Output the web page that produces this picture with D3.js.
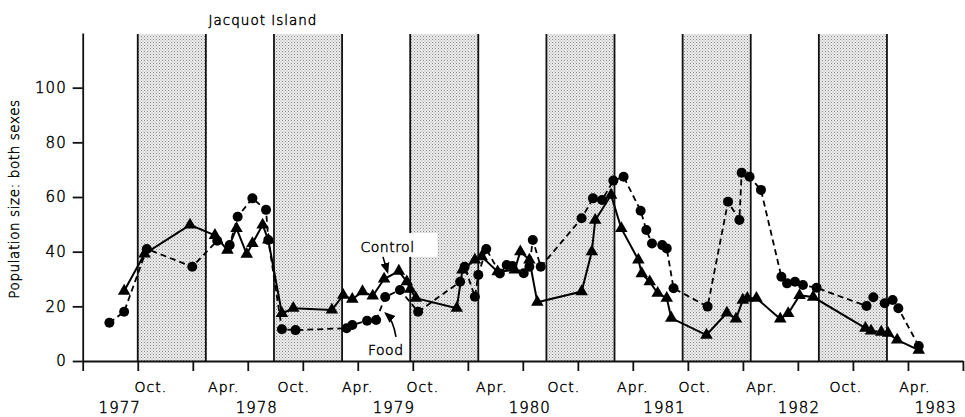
<!DOCTYPE html>
<html>
<head>
<meta charset="utf-8">
<script src="https://cdn.jsdelivr.net/npm/d3@7"></script>
<style>
  body { margin: 0; background: #fff; }
  svg text { font-family: "DejaVu Sans", sans-serif; font-weight: 300; fill: #000; stroke: #000; stroke-width: 0.45px; }
</style>
</head>
<body>
<svg id="chart" width="965" height="417"></svg>
<script>
// x values are months counted from Jan 1977 (0 = Jan 1977)
const foodMonths = [6.5, 7.8, 9.8, 13.8, 16.0, 17.1, 17.8, 19.1, 20.3, 20.5, 21.7, 22.9,
  27.4, 27.9, 29.2, 30.0, 30.8, 32.1, 33.7, 37.4, 37.8, 38.7, 39.0, 39.7, 40.9, 41.5,
  42.0, 43.0, 43.5, 43.8, 44.5, 48.1, 49.1, 49.9, 50.9, 51.8, 53.3, 53.8, 54.3, 55.2,
  55.6, 56.2, 59.2, 61.0, 62.0, 62.2, 62.9, 63.9, 65.7, 66.2, 66.9, 67.6, 68.8, 73.2,
  73.8, 74.8, 75.5, 76.0, 77.8];
const foodCounts = [14, 18, 41, 34.5, 44, 42.4, 52.8, 59.5, 55.3, 44.3, 11.6, 11.3,
  12, 13.2, 14.7, 15, 23.4, 26, 18, 29, 34.5, 23.5, 31.5, 41, 32, 35.1,
  34.8, 32.1, 34.5, 44.3, 34.5, 52.2, 59.5, 58.9, 66, 67.4, 55, 47.9, 43, 42.4,
  41.2, 26.6, 19.9, 58.3, 51.6, 68.9, 67.4, 62.6, 30.8, 28.4, 29, 27.8, 26.8, 20.1,
  23.3, 21.1, 22.3, 19.3, 5.5];

const controlMonths = [7.8, 9.6, 13.6, 15.8, 16.9, 17.7, 18.6, 19.1, 20.0, 20.5, 21.7,
  22.7, 26.1, 27.1, 27.9, 28.8, 29.7, 30.7, 32.0, 32.7, 33.0, 33.5, 37.1, 37.6, 38.7,
  39.3, 40.7, 42.2, 42.7, 43.5, 44.2, 48.1, 49.0, 49.3, 50.7, 51.6, 53.1, 53.4, 54.1,
  54.8, 55.6, 56.0, 59.1, 60.9, 61.7, 62.3, 62.7, 63.5, 65.6, 66.3, 67.3, 68.5, 73.1,
  73.6, 74.5, 75.1, 75.9, 77.8];
const controlCounts = [25.6, 39.2, 49.8, 46, 40.6, 48.5, 39.1, 43, 49.8, 44.3, 17.4,
  19.3, 18.7, 24.1, 22.6, 25.4, 23.8, 30, 32.9, 29, 26.3, 23, 19.3, 33.3, 37,
  38.2, 32.7, 33.3, 40, 37, 21.5, 25.4, 40, 51.5, 60.7, 48.5, 37, 32, 29,
  24.8, 23, 15.7, 9.5, 17.6, 15.4, 22.3, 23, 23, 15.4, 17.4, 24, 23.4, 12,
  11, 10.6, 10.2, 7.7, 4];

// winter periods (Oct to Apr), shaded
const winterStarts = [9, 21, 33, 45, 57, 69];
const winterEnds = [15, 27, 39, 51, 63, 75];

const xTickMonths = [4.15, 9.0, 13.85, 18.69, 23.54, 28.38, 33.23, 38.08, 42.92,
  47.77, 52.61, 57.46, 62.31, 67.15, 72.0, 76.85, 81.69];
const monthLabels = ["Oct.", "Apr.", "Oct.", "Apr.", "Oct.", "Apr.", "Oct.", "Apr.",
  "Oct.", "Apr.", "Oct.", "Apr."];
const monthLabelAt = [10.15, 16.58, 22.74, 28.38, 34.11, 40.19, 46.53, 52.61,
  58.07, 63.98, 71.38, 77.46];
const yearLabels = ["1977", "1978", "1979", "1980", "1981", "1982", "1983"];
const yearLabelAt = [7.41, 19.48, 31.56, 43.54, 55.4, 67.24, 79.3];
const yTicks = [0, 20, 40, 60, 80, 100];

const svg = d3.select("#chart");

const x = d3.scaleLinear().domain([4.15, 81.69]).range([82.7, 962.9]);
const y = d3.scaleLinear().domain([0, 120]).range([361, 33]);

/* ================================
   STIPPLE PATTERN + WINTER BANDS
================================ */
const defs = svg.append("defs");
const pat = defs.append("pattern")
  .attr("id", "stipple")
  .attr("patternUnits", "userSpaceOnUse")
  .attr("width", 3).attr("height", 3);
pat.append("rect").attr("width", 3).attr("height", 3).attr("fill", "#ebebeb");
pat.append("rect").attr("x", 0).attr("y", 0).attr("width", 1).attr("height", 1).attr("fill", "#8a8a8a");
pat.append("rect").attr("x", 1.5).attr("y", 1.5).attr("width", 1).attr("height", 1).attr("fill", "#b0b0b0");

const bands = winterStarts.map((s, i) => ({ start: s, end: winterEnds[i] }));

svg.append("g").selectAll("rect")
  .data(bands)
  .join("rect")
  .attr("x", d => x(d.start))
  .attr("y", y(120) + 1)
  .attr("width", d => x(d.end) - x(d.start))
  .attr("height", y(0) - y(120) - 1)
  .attr("fill", "url(#stipple)");

const edges = svg.append("g").attr("stroke", "#111").attr("stroke-width", 1.8);
bands.forEach(d => {
  [d.start, d.end].forEach(m => {
    edges.append("line")
      .attr("x1", x(m)).attr("x2", x(m))
      .attr("y1", y(120) + 1).attr("y2", y(0));
  });
});

/* ================================
   AXES
================================ */
const xAxis = svg.append("g")
  .attr("transform", `translate(0,${y(0)})`)
  .call(d3.axisBottom(x).tickValues(xTickMonths).tickFormat("").tickSize(10).tickSizeOuter(0));
xAxis.selectAll("path, line").attr("stroke", "#111").attr("stroke-width", 1.8);

const yAxis = svg.append("g")
  .attr("transform", `translate(${x.range()[0]},0)`)
  .call(d3.axisLeft(y).tickValues(yTicks).tickSize(10).tickSizeOuter(0).tickPadding(6));
yAxis.selectAll("path, line").attr("stroke", "#111").attr("stroke-width", 1.8);
yAxis.attr("font-family", null).attr("font-size", null);
yAxis.selectAll("text")
  .attr("font-size", 15)
  .attr("letter-spacing", 1)
  .attr("fill", "#000");

svg.append("g").selectAll("text")
  .data(monthLabels)
  .join("text")
  .attr("x", (d, i) => x(monthLabelAt[i]))
  .attr("y", 392)
  .attr("text-anchor", "middle")
  .attr("font-size", 14)
  .attr("letter-spacing", 1)
  .text(d => d);

svg.append("g").selectAll("text")
  .data(yearLabels)
  .join("text")
  .attr("x", (d, i) => x(yearLabelAt[i]))
  .attr("y", 413)
  .attr("text-anchor", "middle")
  .attr("font-size", 15)
  .attr("letter-spacing", 1)
  .text(d => d);

svg.append("text")
  .attr("transform", `translate(19,${(y(0) + y(120)) / 2 + 2}) rotate(-90)`)
  .attr("text-anchor", "middle")
  .attr("font-size", 13.5)
  .attr("letter-spacing", 0.6)
  .text("Population size: both sexes");

svg.append("text")
  .attr("x", 263)
  .attr("y", 25)
  .attr("text-anchor", "middle")
  .attr("font-size", 13.5)
  .attr("letter-spacing", 1)
  .text("Jacquot Island");

/* ================================
   SERIES
================================ */
const food = foodMonths.map((m, i) => ({ m, v: foodCounts[i] }));
const control = controlMonths.map((m, i) => ({ m, v: controlCounts[i] }));

const line = d3.line().x(d => x(d.m)).y(d => y(d.v));

svg.append("path")
  .datum(control)
  .attr("fill", "none")
  .attr("stroke", "#000")
  .attr("stroke-width", 2)
  .attr("d", line);

svg.append("path")
  .datum(food)
  .attr("fill", "none")
  .attr("stroke", "#000")
  .attr("stroke-width", 1.8)
  .attr("stroke-dasharray", "6,4")
  .attr("d", line);

svg.append("g").selectAll("path")
  .data(control)
  .join("path")
  .attr("d", d3.symbol(d3.symbolTriangle, 68))
  .attr("transform", d => `translate(${x(d.m)},${y(d.v)})`)
  .attr("fill", "#000");

svg.append("g").selectAll("circle")
  .data(food)
  .join("circle")
  .attr("cx", d => x(d.m))
  .attr("cy", d => y(d.v))
  .attr("r", 5)
  .attr("fill", "#000");

/* ================================
   ANNOTATIONS
================================ */
defs.append("marker")
  .attr("id", "arrow")
  .attr("viewBox", "0 0 10 10")
  .attr("refX", 8).attr("refY", 5)
  .attr("markerWidth", 7).attr("markerHeight", 7)
  .attr("orient", "auto")
  .append("path")
  .attr("d", "M0,1 L10,5 L0,9 Z")
  .attr("fill", "#000");

svg.append("rect")
  .attr("x", x(28.3))
  .attr("y", y(46.8))
  .attr("width", x(35.4) - x(28.3))
  .attr("height", y(38.1) - y(46.8))
  .attr("fill", "#fff");

svg.append("text")
  .attr("x", x(31.0))
  .attr("y", y(39.9))
  .attr("text-anchor", "middle")
  .attr("font-size", 14)
  .attr("letter-spacing", 0.5)
  .text("Control");

svg.append("line")
  .attr("x1", x(30.6)).attr("y1", y(38.1))
  .attr("x2", x(31.0)).attr("y2", y(32.6))
  .attr("stroke", "#000").attr("stroke-width", 1.6)
  .attr("marker-end", "url(#arrow)");

svg.append("text")
  .attr("x", x(30.85))
  .attr("y", y(2.2))
  .attr("text-anchor", "middle")
  .attr("font-size", 14)
  .attr("letter-spacing", 0.5)
  .text("Food");

svg.append("path")
  .attr("d", `M${x(31.75)},${y(8.8)} Q${x(31.5)},${y(15)} ${x(30.85)},${y(17.4)}`)
  .attr("fill", "none")
  .attr("stroke", "#000").attr("stroke-width", 1.6)
  .attr("marker-end", "url(#arrow)");
</script>
</body>
</html>
